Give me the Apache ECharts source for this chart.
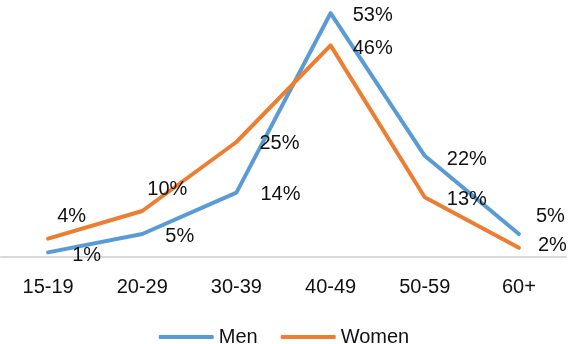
<!DOCTYPE html>
<html>
<head>
<meta charset="utf-8">
<script src="https://cdn.jsdelivr.net/npm/echarts@6/dist/echarts.min.js"></script>
<style>
  html, body { margin: 0; padding: 0; background: #fff; }
  #chart { width: 568px; height: 344px; }
</style>
</head>
<body>
<div id="chart"></div>
<script>
// Age groups and shares (%) per group
const ageGroups = ['15-19', '20-29', '30-39', '40-49', '50-59', '60+'];
const menShare = [1, 5, 14, 53, 22, 5];
const womenShare = [4, 10, 25, 46, 13, 2];

// Label nudges [dx, dy] so the percentages sit clear of the lines
const menLabelOffsets = [[24, 3], [23, 2], [24, 2], [22, 2], [22, 4], [17, -18]];
const womenLabelOffsets = [[9, -22], [5, -22], [23, 1], [22, 3], [22, 2], [19, -2]];

const FONT = "'Liberation Sans Narrow', 'Arial Narrow', 'Liberation Sans', Arial, sans-serif";
const FONT_SIZE = 20;

const chart = echarts.init(document.getElementById('chart'), null, { renderer: 'canvas' });

function lineSeries(name, color, values, offsets) {
  return {
    name: name,
    type: 'line',
    data: values,
    symbol: 'circle',
    symbolSize: 0.1,
    showSymbol: true,
    lineStyle: { color: color, width: 4, cap: 'round', join: 'round' },
    itemStyle: { color: color },
    label: {
      show: true,
      position: 'right',
      distance: 0,
      formatter: '{c}%',
      color: '#111',
      fontFamily: FONT,
      fontSize: FONT_SIZE
    },
    labelLayout: function (params) {
      const o = offsets[params.dataIndex];
      return { dx: o[0], dy: o[1], hideOverlap: false };
    },
    emphasis: { disabled: true },
    animation: false
  };
}

chart.setOption({
  animation: false,
  grid: { left: 1, right: 2, top: 4, bottom: 87, containLabel: false },
  xAxis: {
    type: 'category',
    data: ageGroups,
    boundaryGap: true,
    axisLine: { lineStyle: { color: '#d9d9d9', width: 2 } },
    axisTick: { show: false },
    axisLabel: {
      color: '#111',
      fontFamily: FONT,
      fontSize: FONT_SIZE,
      margin: 20
    }
  },
  yAxis: {
    type: 'value',
    min: 0,
    max: 55,
    show: false,
    splitLine: { show: false }
  },
  legend: {
    top: 322,
    left: 'center',
    itemWidth: 55,
    itemHeight: 4,
    itemGap: 23,
    icon: 'roundRect',
    textStyle: { color: '#111', fontFamily: FONT, fontSize: FONT_SIZE },
    data: ['Men', 'Women']
  },
  series: [
    lineSeries('Men', '#5B9BD5', menShare, menLabelOffsets),
    lineSeries('Women', '#ED7D31', womenShare, womenLabelOffsets)
  ]
});
</script>
</body>
</html>
